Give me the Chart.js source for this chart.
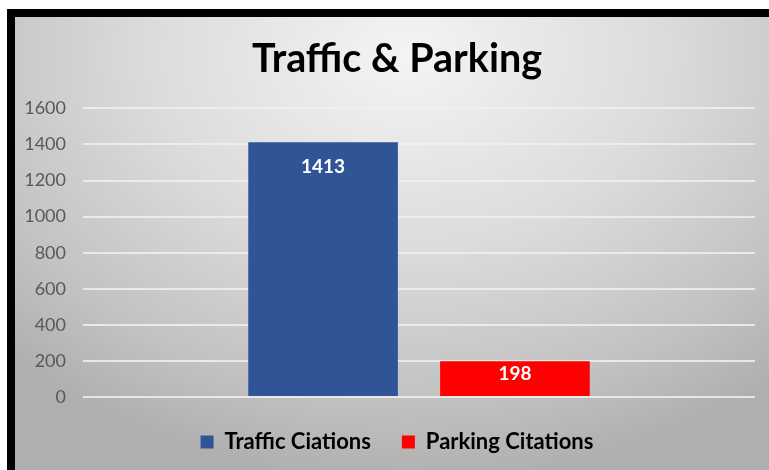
<!DOCTYPE html>
<html>
<head>
<meta charset="utf-8">
<script src="https://cdn.jsdelivr.net/npm/chart.js@4/dist/chart.umd.min.js"></script>
<style>
  body { margin: 0; background: #fff; }
  #frame {
    position: absolute; left: 7px; top: 9px;
    width: 754px; height: 453px;
    border-left: 8px solid #000; border-top: 8px solid #000;
    background: radial-gradient(ellipse 75% 95% at 52% 8%, #f4f4f4 0%, #dcdcdc 45%, #c2c2c2 80%, #afafaf 100%);
  }
  canvas { display: block; }
</style>
</head>
<body>
<div id="frame"><canvas id="bar-chart" width="754" height="453"></canvas></div>
<script>
var categories = [''];
var seriesNames = ['Traffic Ciations', 'Parking Citations'];
var trafficValues = [1413];
var parkingValues = [198];
var yTicks = [0, 200, 400, 600, 800, 1000, 1200, 1400, 1600];

var fontFamily = 'Lato, "Open Sans", sans-serif';

// white value labels inside the top of each bar
var barLabels = {
    id: 'barLabels',
    afterDatasetsDraw: function (chart) {
        var ctx = chart.ctx;
        ctx.save();
        ctx.fillStyle = '#fff';
        ctx.font = 'bold 19px ' + fontFamily;
        ctx.textAlign = 'center';
        ctx.textBaseline = 'middle';
        chart.data.datasets.forEach(function (ds, i) {
            chart.getDatasetMeta(i).data.forEach(function (bar, j) {
                var h = bar.base - bar.y;
                var off = Math.min(25, h / 2 - 5);
                ctx.fillText(ds.data[j], bar.x, bar.y + off);
            });
        });
        ctx.restore();
    }
};

var data = {
    labels: categories,
    datasets: [{
        label: seriesNames[0],
        data: trafficValues,
        backgroundColor: '#2F5597',
        categoryPercentage: 0.571,
        barPercentage: 0.78
    }, {
        label: seriesNames[1],
        data: parkingValues,
        backgroundColor: '#FF0000',
        categoryPercentage: 0.571,
        barPercentage: 0.78
    }]
};

var option = {
    responsive: false,
    animation: false,
    layout: { padding: { left: 10, right: 0, top: 0, bottom: 7 } },
    plugins: {
        title: {
            display: true,
            text: 'Traffic & Parking',
            color: '#000',
            font: { family: fontFamily, size: 39.5, weight: 'bold' },
            padding: { top: 19, bottom: 25 }
        },
        legend: {
            position: 'bottom',
            labels: {
                color: '#000',
                font: { family: fontFamily, size: 22, weight: 'bold' },
                boxWidth: 13,
                boxHeight: 13,
                padding: 31
            }
        },
        tooltip: { enabled: false }
    },
    scales: {
        x: {
            display: true,
            grid: { display: false },
            border: { display: false },
            ticks: { display: false },
            afterFit: function (s) { s.height = 3; }
        },
        y: {
            min: 0,
            max: 1600,
            afterFit: function (s) { s.width = 58; },
            afterBuildTicks: function (s) {
                s.ticks = yTicks.map(function (v) { return { value: v }; });
            },
            border: { display: false },
            grid: {
                color: 'rgba(240,240,240,0.85)',
                lineWidth: 2,
                drawTicks: false
            },
            ticks: {
                padding: 17,
                color: '#595959',
                font: { family: fontFamily, size: 18 },
                callback: function (v) { return String(v); }
            }
        },
        y2: {
            position: 'right',
            display: true,
            grid: { display: false },
            border: { display: false },
            ticks: { display: false },
            afterFit: function (s) { s.width = 14; }
        }
    }
};

new Chart(document.getElementById('bar-chart'), {
    type: 'bar',
    data: data,
    options: option,
    plugins: [barLabels]
});
</script>
</body>
</html>
